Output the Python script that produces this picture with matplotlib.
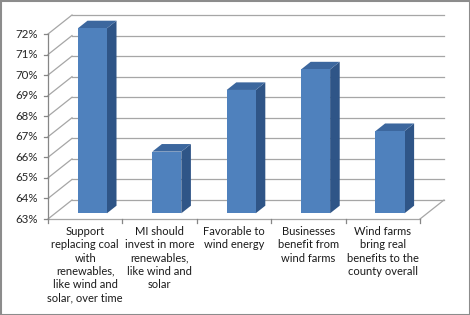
### PACKAGES ###
import numpy as np
import matplotlib
matplotlib.use('Agg')
import matplotlib.pyplot as plt
from matplotlib.patches import Polygon, Rectangle
from matplotlib.lines import Line2D
from matplotlib.transforms import IdentityTransform, ScaledTranslation

### DATA ###
categories = ['Support\nreplacing coal\nwith\nrenewables,\nlike wind and\nsolar, over time',
              'MI should\ninvest in more\nrenewables,\nlike wind and\nsolar',
              'Favorable to\nwind energy',
              'Businesses\nbenefit from\nwind farms',
              'Wind farms\nbring real\nbenefits to the\ncounty overall']
values = [72, 66, 69, 70, 67]
y_ticks = [63, 64, 65, 66, 67, 68, 69, 70, 71, 72]

### STYLE ###
plt.rcParams['font.family'] = ['Lato', 'DejaVu Sans']
front_col = '#4F81BD'
side_col = '#2F5587'
top_col = '#3C679E'
grid_col = '#A6A6A6'
depth_px = np.array([24.0, 19.0])   # back wall offset in pixels
bar_front, bar_back = 0.3, 0.7     # bar position inside the depth
bar_w = 0.39

### FIGURE ###
fig = plt.figure(figsize=(4.7, 3.15), dpi=100)
ax = fig.add_axes([48 / 470, 96 / 315, 372 / 470, 185 / 315])
ax.set_xlim(-0.5, len(values) - 0.5)
ax.set_ylim(y_ticks[0], y_ticks[-1])
ax.axis('off')

ident = IdentityTransform()


def px(x, y, d):
    # data point at depth d (0 front, 1 back) -> display pixels
    return ax.transData.transform((x, y)) + d * depth_px


def line(p0, p1, **kw):
    ax.add_line(Line2D([p0[0], p1[0]], [p0[1], p1[1]], transform=ident,
                       clip_on=False, **kw))


x0, x1 = ax.get_xlim()
y0 = y_ticks[0]

# back wall grid + left wall diagonals + y ticks
for v in y_ticks:
    line(px(x0, v, 1), px(x1, v, 1), color=grid_col, lw=0.9, zorder=1)
    line(px(x0, v, 0), px(x0, v, 1), color=grid_col, lw=0.9, zorder=1)
    a = px(x0, v, 0)
    line(a - [4, 0], a, color='#868686', lw=0.9, zorder=2)
    ax.text(a[0] - 10, a[1], f'{v}%', transform=ident, ha='right', va='center',
            fontsize=8.3, color='#262626')

# floor edges and left axis
line(px(x0, y0, 0), px(x1, y0, 0), color=grid_col, lw=0.9, zorder=1)
line(px(x1, y0, 0), px(x1, y0, 1), color=grid_col, lw=0.9, zorder=1)
line(px(x0, y0, 0), px(x0, y_ticks[-1], 0), color='#868686', lw=0.9, zorder=2)
for k in range(len(values) + 1):
    a = px(x0 + k, y0, 0)
    line(a, a - [0, 4], color='#868686', lw=0.9, zorder=2)

# bars: front face through ax.bar, then side and top faces
front_t = ax.transData + ScaledTranslation(bar_front * depth_px[0] / 100,
                                           bar_front * depth_px[1] / 100,
                                           fig.dpi_scale_trans)
ax.bar(range(len(values)), [v - y0 for v in values], bottom=y0, width=bar_w,
       color=front_col, transform=front_t, clip_on=False, zorder=5, lw=0)
for i, v in enumerate(values):
    l, r = i - bar_w / 2, i + bar_w / 2
    side = [px(r, y0, bar_front), px(r, y0, bar_back), px(r, v, bar_back), px(r, v, bar_front)]
    top = [px(l, v, bar_front), px(r, v, bar_front), px(r, v, bar_back), px(l, v, bar_back)]
    ax.add_patch(Polygon(side, closed=True, transform=ident, facecolor=side_col,
                         edgecolor='none', clip_on=False, zorder=4))
    ax.add_patch(Polygon(top, closed=True, transform=ident, facecolor=top_col,
                         edgecolor='none', clip_on=False, zorder=4))

# category labels
for i, c in enumerate(categories):
    a = px(i, y0, 0)
    ax.text(a[0], a[1] - 7, c, transform=ident, ha='center', va='top',
            fontsize=8, color='#1a1a1a', linespacing=1.25)

# outer frame
fig.add_artist(Rectangle((0.5, 0.5), 469, 314, transform=ident, fill=False,
                         edgecolor='#8C8C8C', lw=1.5))

plt.savefig('out.png', dpi=100)
